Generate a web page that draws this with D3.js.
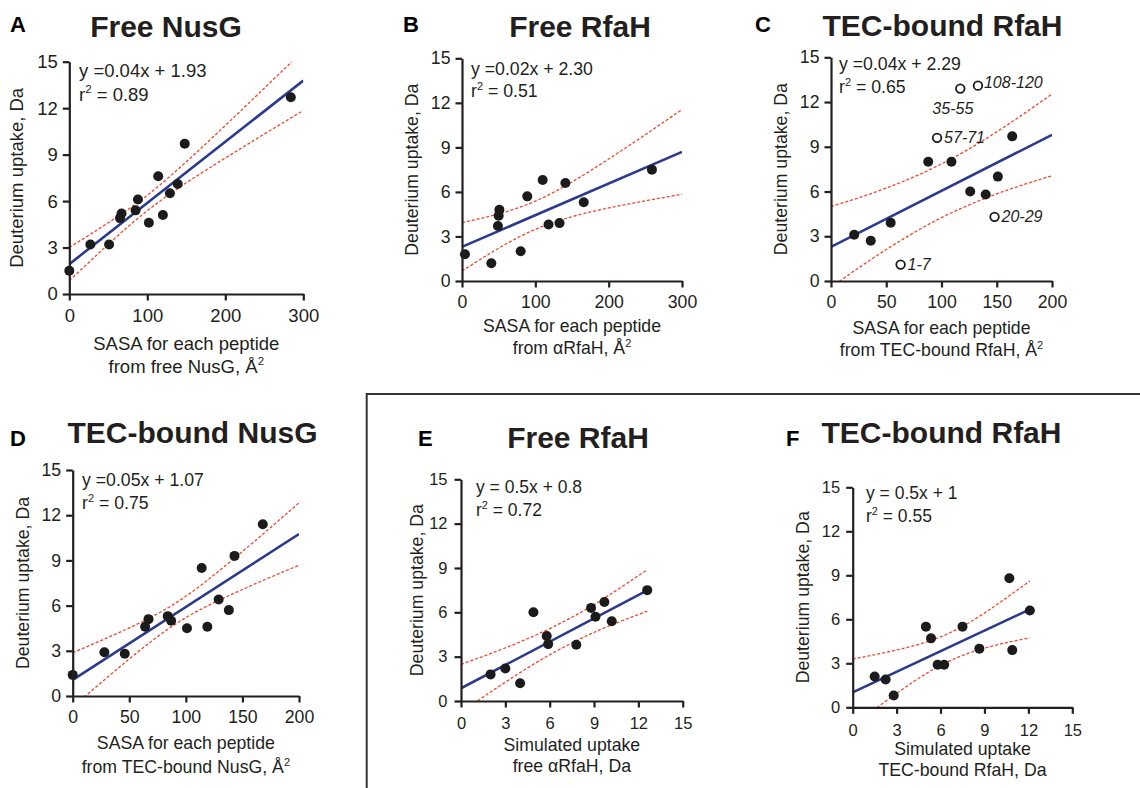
<!DOCTYPE html>
<html>
<head>
<meta charset="utf-8">
<script src="https://d3js.org/d3.v7.min.js"></script>
<style>
  body { margin: 0; background: #fff; }
  svg { display: block; font-family: 'Liberation Sans', Arial, Helvetica, sans-serif; }
</style>
</head>
<body>
<svg id="chart"></svg>
<script>
const W = 1140;
const H = 788;

// tick values
const yTicks = [0, 3, 6, 9, 12, 15];
const sasaTicks300 = [0, 100, 200, 300];
const sasaTicks200 = [0, 50, 100, 150, 200];
const simTicks = [0, 3, 6, 9, 12, 15];

// A - free NusG
const freeNusGSasa = [0, 27, 51, 65, 67, 85, 88, 102, 114, 120, 129, 139, 148, 284];
const freeNusGUptake = [1.5, 3.2, 3.2, 4.9, 5.2, 5.4, 6.1, 4.6, 7.6, 5.1, 6.5, 7.1, 9.7, 12.7];
const fitFreeNusG = [[0, 1.93], [300, 13.78]];
const bandFreeNusG = [[0, 0.86, 3.0], [50, 3.21, 4.6], [100, 5.38, 6.38], [150, 7.18, 8.54],
  [200, 8.78, 10.88], [250, 10.33, 13.29], [300, 11.85, 15.71]];

// B - free RfaH
const freeRfaHSasa = [4, 40, 49, 50, 51, 80, 89, 110, 118, 133, 141, 166, 259];
const freeRfaHUptake = [1.8, 1.2, 3.7, 4.4, 4.8, 2.0, 5.7, 6.8, 3.8, 3.9, 6.6, 5.3, 7.5];
const fitFreeRfaH = [[0, 2.3], [300, 8.7]];
const bandFreeRfaH = [[0, 0.67, 3.93], [50, 2.21, 4.52], [100, 3.48, 5.38], [150, 4.33, 6.67],
  [200, 4.92, 8.22], [250, 5.4, 9.86], [300, 5.85, 11.55]];

// C - TEC-bound RfaH
const tecRfaHSasa = [21, 36, 54, 88, 109, 126, 140, 151, 164];
const tecRfaHUptake = [3.1, 2.7, 3.9, 8.0, 8.0, 6.0, 5.8, 7.0, 9.7];
const outlierNames = ['1-7', '20-29', '57-71', '35-55', '108-120'];
const outlierSasa = [63, 148, 96, 117, 133];
const outlierUptake = [1.1, 4.3, 9.6, 12.9, 13.1];
const fitTecRfaH = [[0, 2.29], [200, 9.8]];
const bandTecRfaH = [[0, -0.42, 5.0], [25, 0.88, 5.58], [50, 2.11, 6.23], [75, 3.24, 6.98],
  [100, 4.25, 7.85], [125, 5.1, 8.86], [150, 5.84, 10.0], [175, 6.48, 11.24], [200, 7.06, 12.54]];

// D - TEC-bound NusG
const tecNusGSasa = [0, 28, 46, 64, 67, 84, 87, 101, 114, 119, 129, 138, 143, 168];
const tecNusGUptake = [1.4, 2.9, 2.8, 4.6, 5.1, 5.3, 5.0, 4.5, 8.5, 4.6, 6.4, 5.7, 9.3, 11.4];
const fitTecNusG = [[0, 1.07], [200, 10.75]];
const bandTecNusG = [[0, -0.73, 2.87], [25, 0.88, 3.68], [50, 2.46, 4.52], [75, 3.94, 5.46],
  [100, 5.2, 6.62], [125, 6.2, 8.04], [150, 7.07, 9.59], [175, 7.89, 11.19], [200, 8.68, 12.82]];

// E - simulated vs measured, free RfaH
const simFree = [2.0, 3.0, 4.0, 4.9, 5.8, 5.9, 7.8, 8.8, 9.1, 9.7, 10.2, 12.6];
const simFreeUptake = [1.8, 2.2, 1.2, 6.0, 4.4, 3.85, 3.8, 6.3, 5.7, 6.7, 5.4, 7.5];
const fitSimFree = [[0, 0.86], [12.6, 7.48]];
const bandSimFree = [[0, -0.76, 2.48], [2, 0.61, 3.21], [4, 1.92, 4.0], [6, 3.13, 4.9],
  [8, 4.17, 5.94], [10, 5.07, 7.15], [12.6, 6.08, 8.88]];

// F - simulated vs measured, TEC-bound RfaH
const simTec = [1.5, 2.25, 2.8, 5.0, 5.35, 5.8, 6.25, 7.5, 8.65, 10.7, 10.9, 12.1];
const simTecUptake = [2.1, 1.9, 0.8, 5.5, 4.7, 2.9, 2.9, 5.5, 4.0, 8.8, 3.9, 6.6];
const fitSimTec = [[0, 1.02], [12.1, 6.68]];
const bandSimTec = [[0, -1.25, 3.29], [2, 0.23, 3.69], [4, 1.64, 4.15], [6, 2.86, 4.8],
  [8, 3.72, 5.8], [10, 4.29, 7.11], [12.1, 4.74, 8.62]];

const letters = ['A', 'B', 'C', 'D', 'E', 'F'];
const titles = ['Free NusG', 'Free RfaH', 'TEC-bound RfaH', 'TEC-bound NusG', 'Free RfaH', 'TEC-bound RfaH'];
const equations = ['y =0.04x + 1.93', 'y =0.02x + 2.30', 'y =0.04x + 2.29', 'y =0.05x + 1.07', 'y = 0.5x + 0.8', 'y = 0.5x + 1'];
const r2Values = ['0.89', '0.51', '0.65', '0.75', '0.72', '0.55'];
const yLabel = 'Deuterium uptake, Da';
const xLabel1 = ['SASA for each peptide', 'SASA for each peptide', 'SASA for each peptide',
  'SASA for each peptide', 'Simulated uptake', 'Simulated uptake'];
const xLabel2 = ['from free NusG, Å', 'from αRfaH, Å', 'from TEC-bound RfaH, Å',
  'from TEC-bound NusG, Å', 'free αRfaH, Da', 'TEC-bound RfaH, Da'];
const xLabelSup = ['2', '2', '2', '2', '', ''];

// positions and sizes
const layout = [
  { x0: 69.3, x1: 303.3, y0: 294, y1: 61.7, font: 18.5, tick: 18.5, padX: 8, padY: 5, eqX: 79, eqY: 77, eqGap: 24, eqFont: 18.5,
    titleX: 166, titleY: 37, letX: 10, letY: 32, yLabX: 23, xl1: 56, xl2: 79 },
  { x0: 462, x1: 682, y0: 281, y1: 58.3, font: 17.7, tick: 17.7, padX: 8, padY: 5, eqX: 471, eqY: 75, eqGap: 22, eqFont: 17.7,
    titleX: 580, titleY: 37, letX: 403, letY: 32, yLabX: 417.5, xl1: 51, xl2: 73 },
  { x0: 831, x1: 1052, y0: 281, y1: 57.3, font: 17.7, tick: 17.7, padX: 8, padY: 5, eqX: 839, eqY: 70, eqGap: 23, eqFont: 17.7,
    titleX: 942.5, titleY: 36, letX: 755, letY: 32, yLabX: 787, xl1: 53, xl2: 75 },
  { x0: 72.7, x1: 299, y0: 696, y1: 470, font: 17.7, tick: 17.7, padX: 8, padY: 5, eqX: 82, eqY: 486, eqGap: 23, eqFont: 17.7,
    titleX: 192.5, titleY: 443, letX: 10, letY: 446, yLabX: 28.5, xl1: 53, xl2: 77 },
  { x0: 461, x1: 682.7, y0: 701, y1: 479.3, font: 17.7, tick: 16.5, padX: 10, padY: 7, eqX: 476, eqY: 493, eqGap: 23, eqFont: 17.5,
    titleX: 578, titleY: 448, letX: 418, letY: 446, yLabX: 422.5, xl1: 50, xl2: 71 },
  { x0: 852.7, x1: 1072.3, y0: 707.3, y1: 487.3, font: 17.7, tick: 16.5, padX: 10, padY: 6, eqX: 866, eqY: 499, eqGap: 23, eqFont: 17.5,
    titleX: 941.5, titleY: 443, letX: 786, letY: 446, yLabX: 809, xl1: 48, xl2: 69 }
];

// offsets of the peptide labels from their open markers in C
const outlierOffsets = [[7, 0, 'start'], [7, 0, 'start'], [7, 0, 'start'], [13, 20, 'end'], [6, -3, 'start']];

const panels = [
  { xs: freeNusGSasa, ys: freeNusGUptake, fit: fitFreeNusG, band: bandFreeNusG, xTicks: sasaTicks300 },
  { xs: freeRfaHSasa, ys: freeRfaHUptake, fit: fitFreeRfaH, band: bandFreeRfaH, xTicks: sasaTicks300 },
  { xs: tecRfaHSasa, ys: tecRfaHUptake, fit: fitTecRfaH, band: bandTecRfaH, xTicks: sasaTicks200 },
  { xs: tecNusGSasa, ys: tecNusGUptake, fit: fitTecNusG, band: bandTecNusG, xTicks: sasaTicks200 },
  { xs: simFree, ys: simFreeUptake, fit: fitSimFree, band: bandSimFree, xTicks: simTicks },
  { xs: simTec, ys: simTecUptake, fit: fitSimTec, band: bandSimTec, xTicks: simTicks }
];

const ink = '#231f20';
const blue = '#2b3a8c';
const red = '#f2462a';

const svg = d3.select('#chart').attr('width', W).attr('height', H);
svg.append('rect').attr('width', W).attr('height', H).attr('fill', '#fff');

const defs = svg.append('defs');

panels.forEach((p, i) => {
  const L = layout[i];
  const xMax = p.xTicks[p.xTicks.length - 1];
  const x = d3.scaleLinear().domain([0, xMax]).range([L.x0, L.x1]);
  const y = d3.scaleLinear().domain([0, 15]).range([L.y0, L.y1]);
  const g = svg.append('g');

  defs.append('clipPath').attr('id', 'clip' + i)
    .append('rect')
    .attr('x', x(0)).attr('y', y(15))
    .attr('width', x(xMax) - x(0)).attr('height', y(0) - y(15));

  const plot = g.append('g').attr('clip-path', `url(#clip${i})`);

  const lo = d3.line().x(d => x(d[0])).y(d => y(d[1])).curve(d3.curveNatural);
  const hi = d3.line().x(d => x(d[0])).y(d => y(d[2])).curve(d3.curveNatural);
  [lo, hi].forEach(gen => {
    plot.append('path')
      .attr('d', gen(p.band))
      .attr('fill', 'none')
      .attr('stroke', red)
      .attr('stroke-width', 1.3)
      .attr('stroke-dasharray', '3,2');
  });

  plot.append('path')
    .attr('d', d3.line().x(d => x(d[0])).y(d => y(d[1]))(p.fit))
    .attr('fill', 'none')
    .attr('stroke', blue)
    .attr('stroke-width', 2.6);

  g.selectAll('circle.dot')
    .data(p.xs.map((v, k) => [v, p.ys[k]]))
    .enter()
    .append('circle')
    .attr('class', 'dot')
    .attr('cx', d => x(d[0]))
    .attr('cy', d => y(d[1]))
    .attr('r', 5)
    .attr('fill', '#1b1b1b');

  if (i === 2) {
    const open = outlierNames.map((n, k) => ({ name: n, sx: outlierSasa[k], sy: outlierUptake[k], off: outlierOffsets[k] }));
    g.selectAll('circle.open')
      .data(open)
      .enter()
      .append('circle')
      .attr('class', 'open')
      .attr('cx', d => x(d.sx))
      .attr('cy', d => y(d.sy))
      .attr('r', 4.3)
      .attr('fill', '#fff')
      .attr('stroke', '#1b1b1b')
      .attr('stroke-width', 1.8);
    g.selectAll('text.pep')
      .data(open)
      .enter()
      .append('text')
      .attr('class', 'pep')
      .attr('x', d => x(d.sx) + d.off[0])
      .attr('y', d => y(d.sy) + d.off[1])
      .attr('dy', '0.35em')
      .attr('text-anchor', d => d.off[2])
      .attr('font-style', 'italic')
      .attr('font-size', 16)
      .attr('fill', ink)
      .text(d => d.name);
  }

  // axes
  const xAxis = g.append('g')
    .attr('transform', `translate(0,${L.y0})`)
    .call(d3.axisBottom(x).tickValues(p.xTicks).tickSize(6.5).tickSizeOuter(0).tickPadding(L.padX));
  const yAxis = g.append('g')
    .attr('transform', `translate(${L.x0},0)`)
    .call(d3.axisLeft(y).tickValues(yTicks).tickSize(6.5).tickSizeOuter(0).tickPadding(L.padY));
  [xAxis, yAxis].forEach(a => {
    a.select('.domain').attr('stroke', ink).attr('stroke-width', 2.2);
    a.selectAll('.tick line').attr('stroke', ink).attr('stroke-width', 2.2);
    a.selectAll('.tick text')
      .attr('fill', ink)
      .attr('font-size', L.tick)
      .attr('font-family', "'Liberation Sans', Arial, Helvetica, sans-serif");
  });

  // equation
  g.append('text')
    .attr('x', L.eqX).attr('y', L.eqY)
    .attr('font-size', L.eqFont).attr('fill', ink)
    .text(equations[i]);
  const r2 = g.append('text')
    .attr('x', L.eqX).attr('y', L.eqY + L.eqGap)
    .attr('font-size', L.eqFont).attr('fill', ink);
  r2.append('tspan').text('r');
  r2.append('tspan').attr('font-size', L.eqFont * 0.62).attr('dy', -L.eqFont * 0.42).text('2');
  r2.append('tspan').attr('dy', L.eqFont * 0.42).text(' = ' + r2Values[i]);

  // titles
  g.append('text')
    .attr('x', L.titleX).attr('y', L.titleY)
    .attr('text-anchor', 'middle')
    .attr('font-size', 30).attr('font-weight', 'bold').attr('fill', ink)
    .text(titles[i]);
  g.append('text')
    .attr('x', L.letX).attr('y', L.letY)
    .attr('font-size', 22).attr('font-weight', 'bold').attr('fill', '#000')
    .text(letters[i]);

  // axis labels
  g.append('text')
    .attr('transform', `translate(${L.yLabX},${(L.y0 + L.y1) / 2}) rotate(-90)`)
    .attr('text-anchor', 'middle')
    .attr('font-size', L.font).attr('fill', ink)
    .text(yLabel);
  const cx = (L.x0 + L.x1) / 2;
  g.append('text')
    .attr('x', cx).attr('y', L.y0 + L.xl1)
    .attr('text-anchor', 'middle')
    .attr('font-size', L.font).attr('fill', ink)
    .text(xLabel1[i]);
  const xl = g.append('text')
    .attr('x', cx).attr('y', L.y0 + L.xl2)
    .attr('text-anchor', 'middle')
    .attr('font-size', L.font).attr('fill', ink);
  xl.append('tspan').text(xLabel2[i]);
  if (xLabelSup[i]) {
    xl.append('tspan').attr('font-size', L.font * 0.62).attr('dy', -L.font * 0.42).text(xLabelSup[i]);
  }
});

// frame around E and F
svg.append('path')
  .attr('d', `M366.7,${H}V394H${W}`)
  .attr('fill', 'none')
  .attr('stroke', '#333')
  .attr('stroke-width', 2);
</script>
</body>
</html>
